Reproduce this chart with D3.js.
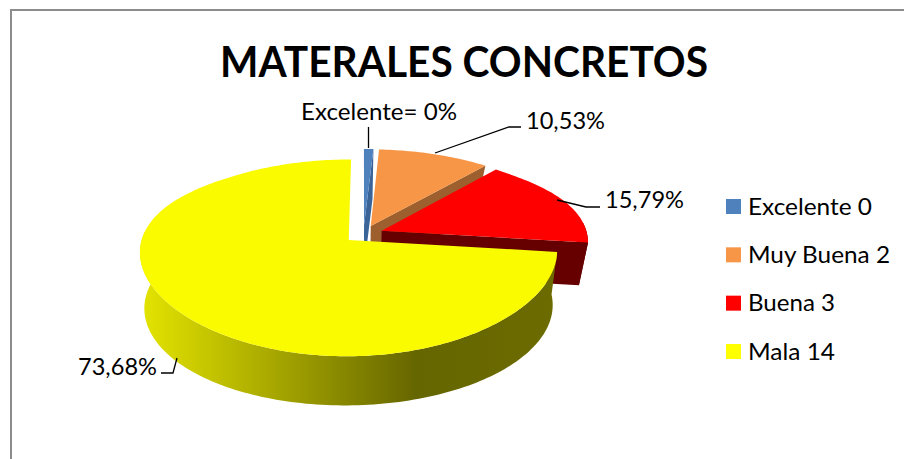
<!DOCTYPE html>
<html>
<head>
<meta charset="utf-8">
<script src="https://cdn.jsdelivr.net/npm/d3@7"></script>
<style>
  html, body { margin: 0; padding: 0; background: #fff; }
  svg { display: block; }
  text { font-family: Lato, "Open Sans", sans-serif; fill: #000; }
</style>
</head>
<body>
<div id="chart"></div>
<script>
// data
const chartTitle = "MATERALES CONCRETOS";
const categories = ["Excelente", "Muy Buena", "Buena", "Mala"];
const counts = [0, 2, 3, 14];
// the zero slice still shows as a thin sliver in the picture
const sliceValues = [0.17, 2, 3, 14];
const sliceLabels = ["Excelente= 0%", "10,53%", "15,79%", "73,68%"];

const topColors = ["#4f81bd", "#f79646", "#ff0000", "#fbfb00"];
const sideColors = ["#3a6397", "#9c5f2d", "#660000", "#6a6a00"];
const legendColors = ["#4f81bd", "#f79646", "#ff0000", "#ffff00"];

const dimensions = { width: 904, height: 459 };

const svg = d3
  .select("#chart")
  .append("svg")
  .attr("width", dimensions.width)
  .attr("height", dimensions.height);

// frame, only top and left sides show
svg
  .append("path")
  .attr("d", "M11,459V10H904")
  .attr("fill", "none")
  .attr("stroke", "#8c8c8c")
  .attr("stroke-width", 2);

// title
svg
  .append("text")
  .attr("x", 220)
  .attr("y", 76.5)
  .attr("font-size", 42)
  .attr("font-weight", 700)
  .attr("textLength", 488)
  .attr("lengthAdjust", "spacingAndGlyphs")
  .text(chartTitle);

// 3d pie: a unit disc is projected with a simple perspective
const explode = 0.095;
const topDisc = { cx: 363.5, cy: 234, a: 205.5, b: 93, kx: 0.12, kxFar: 0.19, ky: 0.18 };
const baseDisc = { cx: 363.5, cy: 277, a: 195, b: 90, kx: 0.24, kxFar: 0.24, ky: 0.24 };

// horizontal perspective eases from the near value to the far value behind the middle
const horizontalK = (disc, v) => {
  const t = Math.min(1, Math.max(0, -v / 0.7));
  return disc.kx + (disc.kxFar - disc.kx) * t * t;
};

const project = (disc, u, v) => [
  disc.cx + (disc.a * u) / (1 - horizontalK(disc, v) * v),
  disc.cy + (disc.b * v) / (1 - disc.ky * v),
];

const pie = d3.pie().sort(null);
const slices = pie(sliceValues);

const sliceOffset = (d) => {
  const mid = (d.startAngle + d.endAngle) / 2;
  return [explode * Math.sin(mid), -explode * Math.cos(mid)];
};

// point on the rim (r = 1) or at the apex (r = 0) of a slice
const slicePoint = (disc, d, angle, r) => {
  const [ou, ov] = sliceOffset(d);
  return project(disc, ou + r * Math.sin(angle), ov - r * Math.cos(angle));
};

const rimAngles = (d) => {
  const n = Math.max(2, Math.ceil((d.endAngle - d.startAngle) / 0.02));
  return d3.range(n + 1).map((i) => d.startAngle + ((d.endAngle - d.startAngle) * i) / n);
};

const linePath = d3.line();

const defs = svg.append("defs");
const wallGradient = defs
  .append("linearGradient")
  .attr("id", "wall-mala")
  .attr("gradientUnits", "userSpaceOnUse")
  .attr("x1", 145)
  .attr("x2", 555)
  .attr("y1", 0)
  .attr("y2", 0);
[
  [0, "#e2e200"],
  [0.66, "#666600"],
  [1, "#6b6b00"],
].forEach(([offset, color]) =>
  wallGradient.append("stop").attr("offset", offset).attr("stop-color", color),
);

const bounds = svg.append("g").attr("class", "pie");

const sliceGroups = bounds
  .selectAll(".slice")
  .data(slices)
  .join("g")
  .attr("class", "slice");

// cut faces, only the clockwise end of a slice faces the viewer
sliceGroups
  .filter((d, i) => i < 3)
  .append("path")
  .attr("d", (d) => {
    const face = [
      slicePoint(topDisc, d, d.endAngle, 0),
      slicePoint(topDisc, d, d.endAngle, 1),
      slicePoint(baseDisc, d, d.endAngle, 1),
      slicePoint(baseDisc, d, d.endAngle, 0),
    ];
    return linePath(face) + "Z";
  })
  .attr("fill", (d, i) => sideColors[i]);

// outer walls, front half of the rim only
sliceGroups
  .append("path")
  .attr("d", (d) => {
    const angles = rimAngles(d).filter((a) => Math.cos(a) < 0.1);
    if (angles.length < 2) return null;
    const upper = angles.map((a) => slicePoint(topDisc, d, a, 1));
    const lower = angles.map((a) => slicePoint(baseDisc, d, a, 1)).reverse();
    return linePath(upper.concat(lower)) + "Z";
  })
  .attr("fill", (d, i) => (i === 3 ? "url(#wall-mala)" : sideColors[i]));

// top faces
sliceGroups
  .append("path")
  .attr("d", (d) => {
    const rim = rimAngles(d).map((a) => slicePoint(topDisc, d, a, 1));
    return linePath([slicePoint(topDisc, d, d.startAngle, 0), ...rim]) + "Z";
  })
  .attr("fill", (d, i) => topColors[i]);

// data labels
const labelX = [301, 526, 605, 78];
const labelY = [120, 129, 208, 375];
const labelWidth = [156, 79, 79, 79];

svg
  .append("g")
  .selectAll("text")
  .data(sliceLabels)
  .join("text")
  .attr("x", (d, i) => labelX[i])
  .attr("y", (d, i) => labelY[i])
  .attr("font-size", 24)
  .attr("textLength", (d, i) => labelWidth[i])
  .attr("lengthAdjust", "spacingAndGlyphs")
  .text((d) => d);

// leader lines
const leaders = [
  [[368.5, 148], [368.5, 127]],
  [[435, 153], [509, 127], [521, 127]],
  [[557, 200], [586, 207], [600, 207]],
  [[177, 358], [173, 373], [161, 373]],
];

svg
  .append("g")
  .selectAll("path")
  .data(leaders)
  .join("path")
  .attr("d", (d) => linePath(d))
  .attr("fill", "none")
  .attr("stroke", "#000")
  .attr("stroke-width", 1.3);

// legend
const legendScale = d3
  .scalePoint()
  .domain(categories)
  .range([206.5, 351.5]);

const legendItems = svg
  .append("g")
  .selectAll("g")
  .data(categories)
  .join("g")
  .attr("transform", (d) => `translate(726,${legendScale(d)})`);

legendItems
  .append("rect")
  .attr("y", -7.5)
  .attr("width", 15)
  .attr("height", 15)
  .attr("fill", (d, i) => legendColors[i]);

const legendWidth = [124, 142, 87, 87];
legendItems
  .append("text")
  .attr("x", 22)
  .attr("y", 8)
  .attr("font-size", 24)
  .attr("textLength", (d, i) => legendWidth[i])
  .attr("lengthAdjust", "spacingAndGlyphs")
  .text((d, i) => `${d} ${counts[i]}`);
</script>
</body>
</html>
